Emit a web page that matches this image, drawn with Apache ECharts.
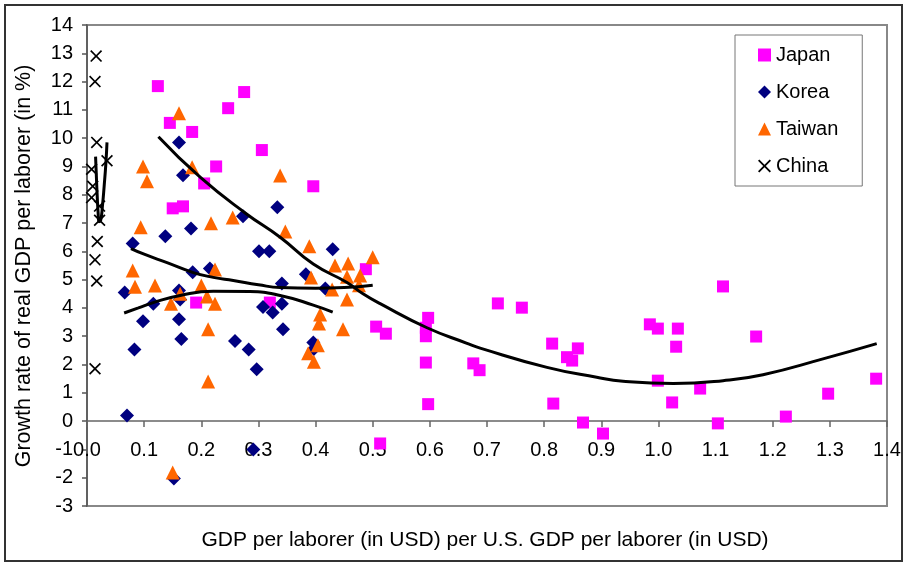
<!DOCTYPE html>
<html>
<head>
<meta charset="utf-8">
<script src="https://cdn.jsdelivr.net/npm/echarts@6/dist/echarts.min.js"></script>
<style>
  html, body { margin: 0; padding: 0; background: #fff; }
  #chart { width: 906px; height: 563px; }
</style>
</head>
<body>
<div id="chart"></div>
<script>
// ---- data (x = GDP per laborer relative to U.S., y = growth rate %) ----
var japanPts = [[0.124,11.84],[0.145,10.54],[0.184,10.22],[0.247,11.06],[0.275,11.63],[0.226,9.0],[0.205,8.4],[0.150,7.52],[0.168,7.59],[0.306,9.58],[0.396,8.3],[0.191,4.19],[0.32,4.19],[0.488,5.37],[0.506,3.34],[0.523,3.09],[0.597,3.65],[0.593,3.3],[0.593,3.0],[0.593,2.07],[0.597,0.6],[0.513,-0.79],[0.719,4.16],[0.761,4.01],[0.676,2.04],[0.687,1.8],[0.814,2.74],[0.816,0.62],[0.840,2.26],[0.849,2.14],[0.859,2.57],[0.868,-0.05],[0.903,-0.44],[0.985,3.42],[0.999,3.27],[1.034,3.27],[1.031,2.63],[0.999,1.43],[1.024,0.66],[1.073,1.15],[1.104,-0.08],[1.113,4.76],[1.171,2.99],[1.223,0.16],[1.297,0.97],[1.381,1.5]];
var koreaPts = [[0.066,4.55],[0.07,0.2],[0.080,6.28],[0.083,2.53],[0.098,3.53],[0.116,4.15],[0.137,6.53],[0.152,-2.03],[0.161,9.85],[0.161,4.62],[0.163,4.3],[0.161,3.6],[0.165,2.9],[0.168,8.69],[0.182,6.81],[0.185,5.26],[0.215,5.39],[0.259,2.83],[0.273,7.24],[0.283,2.53],[0.291,-1.0],[0.297,1.83],[0.301,6.0],[0.308,4.03],[0.319,6.0],[0.325,3.84],[0.333,7.56],[0.341,4.15],[0.341,4.86],[0.343,3.25],[0.383,5.19],[0.396,2.78],[0.397,2.55],[0.417,4.69],[0.43,6.07]];
var taiwanPts = [[0.08,5.32],[0.084,4.75],[0.094,6.85],[0.098,9.0],[0.105,8.48],[0.119,4.79],[0.147,4.15],[0.15,-1.82],[0.161,10.88],[0.163,4.5],[0.184,8.97],[0.2,4.79],[0.21,4.4],[0.212,3.25],[0.212,1.4],[0.217,6.99],[0.224,5.36],[0.224,4.15],[0.255,7.2],[0.338,8.68],[0.347,6.7],[0.387,2.4],[0.389,6.18],[0.392,5.08],[0.397,2.1],[0.404,2.68],[0.406,3.45],[0.408,3.77],[0.429,4.65],[0.434,5.5],[0.448,3.25],[0.455,5.1],[0.455,4.3],[0.457,5.57],[0.476,4.8],[0.478,5.15],[0.5,5.79]];
var chinaPts = [[0.016,12.9],[0.014,12.0],[0.017,9.85],[0.035,9.2],[0.008,8.9],[0.010,8.3],[0.008,7.9],[0.022,7.6],[0.022,7.1],[0.018,6.35],[0.014,5.7],[0.017,4.95],[0.014,1.85]];

// trend lines
var japanTrend = [[0.125,10.05],[0.198,8.62],[0.278,7.34],[0.338,6.5],[0.396,5.55],[0.455,4.9],[0.483,4.5],[0.513,4.15],[0.595,3.3],[0.665,2.75],[0.688,2.58],[0.805,1.9],[0.892,1.55],[0.938,1.41],[1.026,1.33],[1.113,1.43],[1.183,1.64],[1.288,2.2],[1.382,2.74]];
var taiwanTrend = [[0.077,6.1],[0.1,5.9],[0.14,5.6],[0.186,5.25],[0.221,5.08],[0.256,4.97],[0.3,4.82],[0.338,4.72],[0.4,4.7],[0.45,4.72],[0.5,4.8]];
var koreaTrend = [[0.065,3.82],[0.09,4.0],[0.116,4.19],[0.163,4.44],[0.221,4.59],[0.285,4.58],[0.338,4.44],[0.396,4.1],[0.43,3.85]];
var chinaTrend = [[0.015,9.35],[0.0165,8.6],[0.018,7.9],[0.0195,7.35],[0.021,7.05],[0.024,7.1],[0.027,7.6],[0.030,8.3],[0.033,9.1],[0.035,9.85]];

// in-plot labels
var annoNames = ['China', 'Korea', 'Taiwan', 'Japan'];
var annoPos = [[0.0175, 11.28], [-0.005, 4.33], [0.509, 5.9], [1.169, 4.55]];

var legendNames = ['Japan', 'Korea', 'Taiwan', 'China'];
var xTitle = 'GDP per laborer (in USD) per U.S. GDP per laborer (in USD)';
var yTitle = 'Growth rate of real GDP per laborer (in %)';

var FONT = '"Liberation Sans", Arial, sans-serif';
var crossPath = 'path://M0,1L1,0L5,4L9,0L10,1L6,5L10,9L9,10L5,6L1,10L0,9L4,5Z';

var chart = echarts.init(document.getElementById('chart'), null, {renderer: 'canvas'});

function trend(name, data) {
  return {
    name: name, type: 'line', data: data, smooth: true, showSymbol: false,
    symbol: 'none', silent: true, z: 5, clip: false,
    lineStyle: {color: '#000', width: 3}
  };
}

var option = {
  backgroundColor: '#fff',
  animation: false,
  textStyle: {fontFamily: FONT},
  grid: {left: 87, top: 25, right: 19, bottom: 57, show: true, borderColor: '#888', borderWidth: 2, backgroundColor: 'transparent'},
  legend: {
    data: legendNames, orient: 'vertical', left: 735, top: 35,
    padding: [10, 24, 10, 23], itemGap: 17, itemWidth: 13, itemHeight: 13,
    borderColor: '#777', borderWidth: 1, backgroundColor: '#fff',
    textStyle: {fontSize: 20, color: '#000', fontFamily: FONT}
  },
  xAxis: {
    type: 'value', min: 0, max: 1.4, interval: 0.1, position: 'bottom', offset: 0,
    axisLine: {onZero: false, lineStyle: {color: '#666', width: 1.5}},
    axisTick: {length: 6, lineStyle: {color: '#666', width: 1.5}},
    axisLabel: {fontSize: 20, color: '#000', margin: 19, fontFamily: FONT, formatter: function (v) { return v.toFixed(1); }},
    splitLine: {show: false}
  },
  yAxis: {
    type: 'value', min: -3, max: 14, interval: 1,
    axisLine: {show: true, onZero: false, lineStyle: {color: '#555', width: 1.5}},
    axisTick: {show: true, length: 5, lineStyle: {color: '#555', width: 1.5}},
    axisLabel: {fontSize: 20, color: '#000', margin: 14, fontFamily: FONT},
    splitLine: {show: false}
  },
  graphic: [
    {type: 'rect', shape: {x: 5, y: 5, width: 897, height: 556}, style: {fill: 'none', stroke: '#333', lineWidth: 2}, z: -1},
    {type: 'text', x: 485, y: 540, style: {text: xTitle, font: '21px ' + FONT, fill: '#000', align: 'center', verticalAlign: 'middle'}},
    {type: 'text', x: 24, y: 266, rotation: Math.PI / 2, style: {text: yTitle, font: '21.5px ' + FONT, fill: '#000', align: 'center', verticalAlign: 'middle'}}
  ],
  series: [
    {name: 'Japan', type: 'scatter', data: japanPts, symbol: 'rect', symbolSize: 12, itemStyle: {color: '#FF00FF', opacity: 1}, z: 2},
    {name: 'Korea', type: 'scatter', data: koreaPts, symbol: 'diamond', symbolSize: 14, itemStyle: {color: '#000080', opacity: 1}, z: 2},
    {name: 'Taiwan', type: 'scatter', data: taiwanPts, symbol: 'triangle', symbolSize: 14, itemStyle: {color: '#FF6600', opacity: 1}, z: 2},
    {name: 'China', type: 'scatter', data: chinaPts, symbol: crossPath, symbolSize: 12, itemStyle: {color: '#000', opacity: 1}, z: 2},
    trend('Japan trend', japanTrend),
    trend('Taiwan trend', taiwanTrend),
    trend('Korea trend', koreaTrend),
    trend('China trend', chinaTrend),
    {
      name: 'labels', type: 'scatter', symbolSize: 0, silent: true, clip: false, z: 6,
      data: annoPos.map(function (p, i) { return {value: p, name: annoNames[i]}; }),
      itemStyle: {opacity: 0},
      label: {show: true, position: 'right', distance: 0, formatter: '{b}', fontSize: 20, color: '#000', fontFamily: FONT}
    }
  ]
};
chart.setOption(option);
// move the x axis (line, ticks, labels) up to y = 0 using the y scale
var yZero = chart.convertToPixel({yAxisIndex: 0}, 0);
var yMinPx = chart.convertToPixel({yAxisIndex: 0}, -3);
chart.setOption({xAxis: {offset: -(yMinPx - yZero)}});
</script>
</body>
</html>
